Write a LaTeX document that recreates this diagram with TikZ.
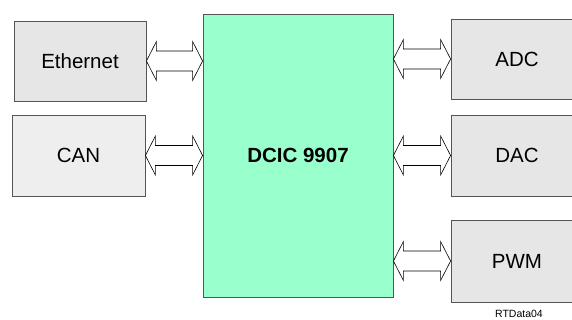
\documentclass[tikz,border=0pt]{standalone}
\usepackage{fontspec}
\setmainfont{Liberation Sans}
\usetikzlibrary{calc}
\definecolor{boxgray}{HTML}{E6E6E6}
\definecolor{boxgrayb}{HTML}{EEEEEE}
\definecolor{mint}{HTML}{99FFCC}
\definecolor{edge}{HTML}{555555}
\tikzset{
  sidebox/.style={draw=edge, line width=0.8pt, fill=boxgray, rectangle, inner sep=0pt,
    minimum width=132pt, minimum height=80pt, font=\fontsize{20.5}{24}\selectfont},
  corebox/.style={draw=edge, line width=0.8pt, fill=mint, rectangle, inner sep=0pt,
    minimum width=190pt, minimum height=283pt, font=\bfseries\fontsize{20.5}{24}\selectfont},
  blk/.style={draw=black, fill=white, line width=0.6pt, line join=miter},
}
\newcommand{\dblarr}[2]{%
  \draw[blk] let \p1=(#1.east), \p2=(#2.west) in
    (\x1,\y1) -- (\x1+10pt,\y1+19.5pt) -- (\x1+10pt,\y1+10pt) -- (\x2-10pt,\y1+10pt)
    -- (\x2-10pt,\y1+19.5pt) -- (\x2,\y1) -- (\x2-10pt,\y1-19.5pt) -- (\x2-10pt,\y1-10pt)
    -- (\x1+10pt,\y1-10pt) -- (\x1+10pt,\y1-19.5pt) -- cycle;}
\newcommand{\dblarrr}[2]{%
  \draw[blk] let \p1=(#1.east), \p2=(#2.west) in
    (\x1,\y2) -- (\x1+10pt,\y2+19.5pt) -- (\x1+10pt,\y2+10pt) -- (\x2-10pt,\y2+10pt)
    -- (\x2-10pt,\y2+19.5pt) -- (\x2,\y2) -- (\x2-10pt,\y2-19.5pt) -- (\x2-10pt,\y2-10pt)
    -- (\x1+10pt,\y2-10pt) -- (\x1+10pt,\y2-19.5pt) -- cycle;}
\begin{document}
\begin{tikzpicture}[x=1pt,y=-1pt]
\useasboundingbox (0,0) rectangle (572,320);
\fill[white] (0,0) rectangle (572,320);
\node[sidebox] (eth) at (80,61) {Ethernet};
\node[sidebox, fill=boxgrayb, minimum width=133pt, minimum height=81pt] (can) at (78.5,155.5) {CAN};
\node[corebox] (dcic) at (298,155.5) {DCIC 9907};
\node[sidebox] (adc) at (517,59) {ADC};
\node[sidebox, minimum height=81pt] (dac) at (517,155.5) {DAC};
\node[sidebox, minimum height=82pt] (pwm) at (517,261) {PWM};
\node[font=\fontsize{10.5}{12}\selectfont, inner sep=0pt] (tag) at (519,313.5) {RTData04};
\dblarr{eth}{dcic}
\dblarr{can}{dcic}
\dblarrr{dcic}{adc}
\dblarrr{dcic}{dac}
\dblarrr{dcic}{pwm}
\end{tikzpicture}
\end{document}
